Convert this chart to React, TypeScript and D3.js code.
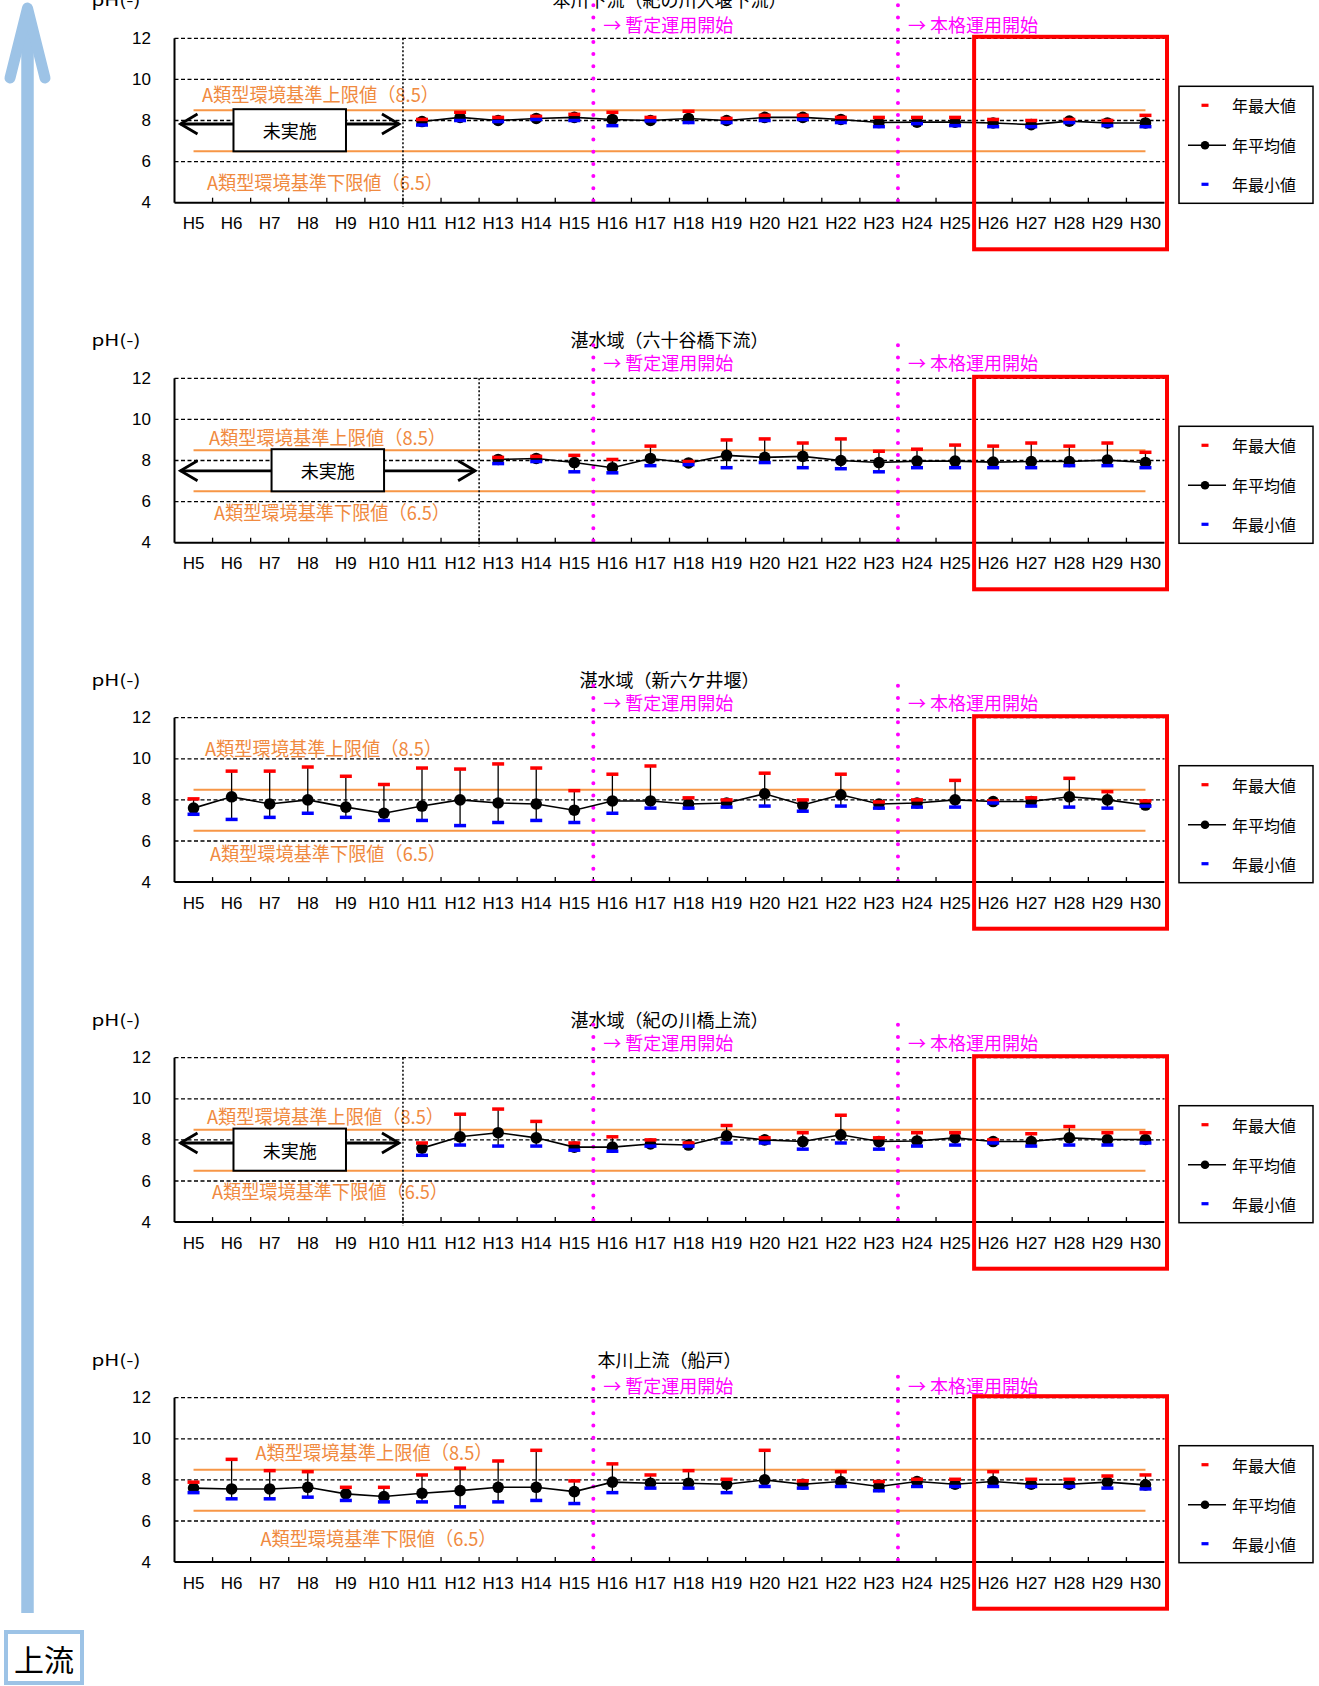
import React from "react";
import * as d3 from "d3";

// ---------- data ----------
const years = ["H5","H6","H7","H8","H9","H10","H11","H12","H13","H14","H15","H16","H17","H18","H19","H20","H21","H22","H23","H24","H25","H26","H27","H28","H29","H30"];
const yTicks = [4, 6, 8, 10, 12];
const gridValues = [6, 8, 10, 12];
const upperLimit = 8.5;
const lowerLimit = 6.5;
const upperLabel = "A類型環境基準上限値（8.5）";
const lowerLabel = "A類型環境基準下限値（6.5）";
const notDoneLabel = "未実施";
const yAxisLabel = "pH(-)";
const legendLabels = ["年最大値", "年平均値", "年最小値"];
const events = [
  { year: "H16", label: "→ 暫定運用開始" },
  { year: "H24", label: "→ 本格運用開始" },
];
const highlightYears = ["H26", "H30"];
const upstreamLabel = "上流";

const titles = [
  "本川下流（紀の川大堰下流）",
  "湛水域（六十谷橋下流）",
  "湛水域（新六ケ井堰）",
  "湛水域（紀の川橋上流）",
  "本川上流（船戸）",
];

const N = null;
const mean1 = [N,N,N,N,N,N, 7.95,8.15,8.0,8.1,8.15,8.05,8.0,8.1,8.0,8.15,8.15,8.05,7.9,7.92,7.92,7.88,7.8,7.97,7.88,7.88];
const max1  = [N,N,N,N,N,N, 8.05,8.4,8.15,8.2,8.3,8.4,8.15,8.45,8.1,8.25,8.25,8.15,8.15,8.15,8.15,8.05,8.0,8.05,8.0,8.25];
const min1  = [N,N,N,N,N,N, 7.78,8.0,7.95,8.05,8.0,7.75,7.98,7.9,7.9,8.0,8.05,7.9,7.7,7.85,7.75,7.7,7.7,7.9,7.75,7.7];

const mean2 = [N,N,N,N,N,N,N,N, 8.05,8.1,7.9,7.65,8.1,7.88,8.25,8.15,8.2,8.0,7.9,7.97,7.97,7.92,7.95,7.95,8.02,7.9];
const max2  = [N,N,N,N,N,N,N,N, 8.15,8.2,8.25,8.05,8.7,7.95,9.0,9.05,8.85,9.05,8.45,8.55,8.75,8.7,8.85,8.7,8.85,8.4];
const min2  = [N,N,N,N,N,N,N,N, 7.85,7.95,7.45,7.4,7.75,7.8,7.65,7.9,7.65,7.6,7.45,7.65,7.65,7.65,7.65,7.75,7.75,7.65];

const mean3 = [7.6,8.15,7.8,8.0,7.65,7.35,7.7,8.0,7.85,7.8,7.5,7.95,7.95,7.8,7.85,8.3,7.75,8.25,7.8,7.85,8.0,7.92,7.92,8.15,8.0,7.75];
const max3  = [8.05,9.4,9.4,9.6,9.15,8.75,9.55,9.5,9.75,9.55,8.45,9.25,9.65,8.1,8.0,9.3,8.0,9.25,7.9,8.0,8.95,7.95,8.1,9.05,8.4,7.95];
const min3  = [7.3,7.05,7.15,7.35,7.15,7.0,7.0,6.75,6.9,7.0,6.9,7.35,7.6,7.6,7.65,7.7,7.45,7.7,7.6,7.65,7.65,7.85,7.7,7.65,7.6,7.7];

const mean4 = [N,N,N,N,N,N, 7.6,8.15,8.35,8.1,7.65,7.65,7.8,7.75,8.2,8.0,7.92,8.25,7.92,7.95,8.1,7.92,7.92,8.1,8.02,8.02];
const max4  = [N,N,N,N,N,N, 7.85,9.25,9.5,8.9,7.85,8.15,8.0,7.85,8.7,8.1,8.35,9.2,8.1,8.35,8.35,8.0,8.3,8.65,8.35,8.35];
const min4  = [N,N,N,N,N,N, 7.25,7.75,7.7,7.7,7.5,7.45,7.7,7.7,7.85,7.85,7.55,7.85,7.55,7.7,7.75,7.85,7.7,7.75,7.75,7.85];

const mean5 = [7.6,7.56,7.56,7.64,7.32,7.19,7.35,7.48,7.64,7.64,7.43,7.89,7.84,7.84,7.79,8.0,7.79,7.92,7.68,7.92,7.79,7.92,7.79,7.79,7.89,7.76];
const max5  = [7.89,9.0,8.45,8.4,7.64,7.64,8.24,8.57,8.92,9.44,7.95,8.78,8.24,8.45,8.03,9.44,7.95,8.4,7.92,8.03,8.03,8.4,8.03,8.03,8.19,8.24];
const min5  = [7.38,7.08,7.08,7.16,7.0,6.93,6.93,6.69,6.93,7.0,6.85,7.38,7.6,7.6,7.38,7.68,7.6,7.68,7.47,7.68,7.68,7.68,7.68,7.68,7.6,7.56];

const series = [
  { mean: mean1, max: max1, min: min1 },
  { mean: mean2, max: max2, min: min2 },
  { mean: mean3, max: max3, min: min3 },
  { mean: mean4, max: max4, min: min4 },
  { mean: mean5, max: max5, min: min5 },
];

// ---------- layout ----------
const W = 1319;
const H = 1686;
const X0 = 174.5;
const X1 = 1164.5;
const PH = 164.4;
const layouts = [
  { top: 38.3, upY: 55, loY: 143.4, labX: 202, magTop: -33, magLab: -14.7, arrowVal: 7.83, showNotDone: true },
  { top: 378.3, upY: 58, loY: 133.4, labX: 209, magTop: -33, magLab: -16.6, arrowVal: 7.5, showNotDone: true },
  { top: 717.7, upY: 29.6, loY: 135, labX: 205, magTop: -32, magLab: -16, arrowVal: 0, showNotDone: false },
  { top: 1057.7, upY: 57.3, loY: 132.3, labX: 207, magTop: -33, magLab: -15.5, arrowVal: 7.85, showNotDone: true },
  { top: 1397.7, upY: 54, loY: 139.6, labX: 255.5, magTop: -21, magLab: -12.7, arrowVal: 0, showNotDone: false },
];

const JP = "'Noto Sans CJK JP', 'Noto Sans', sans-serif";
const LAT = "'Liberation Sans', Arial, sans-serif";
const ORANGE = "#F79646";
const ORANGE_TXT = "#F08A40";
const MAGENTA = "#FF00FF";
const RED = "#FF0000";
const BLUE = "#0000FF";
const LIGHTBLUE = "#9DC3E6";

function Chart({ idx }: { idx: number }) {
  const L = layouts[idx];
  const S = series[idx];
  const top = L.top;
  const bottom = top + PH;
  const x = d3.scaleBand<string>().domain(years).range([X0, X1]).padding(0);
  const y = d3.scaleLinear().domain([4, 12]).range([bottom, top]);
  const bw = x.bandwidth();
  const cx = (i: number) => (x(years[i]) as number) + bw / 2;

  const pts = S.mean
    .map((m, i) => (m == null ? null : { i, m: m as number, hi: S.max[i] as number, lo: S.min[i] as number }))
    .filter((d) => d != null) as { i: number; m: number; hi: number; lo: number }[];
  const line = d3
    .line<{ i: number; m: number }>()
    .x((d) => cx(d.i))
    .y((d) => y(d.m));
  const firstIdx = pts[0].i;
  const boundaryX = x(years[firstIdx]) as number;

  const arrowY = y(L.arrowVal);
  const arrowStart = X0 + 6;
  const arrowEnd = boundaryX - 4;
  const boxW = 112.5;
  const boxMid = (arrowStart + arrowEnd) / 2;
  const boxTop = y(8.55);
  const boxBot = y(6.5);

  const hlX0 = x(highlightYears[0]) as number;
  const hlX1 = (x(highlightYears[1]) as number) + bw + 2.5;

  const capW = 12;
  const capH = 3.5;

  const legX = 1179;
  const legY = top + 48;

  return (
    <g>
      {/* title & y label */}
      <text x={(X0 + X1) / 2} y={top - 39} textAnchor="middle" dominantBaseline="central" fontFamily={JP} fontSize={18} fill="#000">
        {titles[idx]}
      </text>
      <text x={91.5} y={top - 39} dominantBaseline="central" fontFamily={JP} fontSize={16} fill="#000" textLength={49} lengthAdjust="spacingAndGlyphs">
        {yAxisLabel}
      </text>

      {/* gridlines */}
      {gridValues.map((v) => (
        <line key={v} x1={X0} x2={X1} y1={y(v)} y2={y(v)} stroke="#000" strokeWidth={1.3} strokeDasharray="4 2.5" />
      ))}

      {/* y tick labels */}
      {yTicks.map((v) => (
        <text key={v} x={151} y={y(v)} textAnchor="end" dominantBaseline="central" fontFamily={LAT} fontSize={17} fill="#000">
          {v}
        </text>
      ))}

      {/* x tick marks and labels */}
      {years.map((yr, i) =>
        i > 0 ? (
          <line key={"t" + yr} x1={x(yr) as number} x2={x(yr) as number} y1={bottom} y2={bottom - 5} stroke="#000" strokeWidth={1.3} />
        ) : null
      )}
      {years.map((yr, i) => (
        <text key={"l" + yr} x={cx(i)} y={bottom + 21} textAnchor="middle" dominantBaseline="central" fontFamily={LAT} fontSize={17} fill="#000">
          {yr}
        </text>
      ))}

      {/* standard limits */}
      <line x1={cx(0)} x2={cx(years.length - 1)} y1={y(upperLimit)} y2={y(upperLimit)} stroke={ORANGE} strokeWidth={2} />
      <line x1={cx(0)} x2={cx(years.length - 1)} y1={y(lowerLimit)} y2={y(lowerLimit)} stroke={ORANGE} strokeWidth={2} />
      <text x={L.labX} y={top + L.upY} dominantBaseline="central" fontFamily={JP} fontSize={19} fill={ORANGE_TXT} textLength={237} lengthAdjust="spacingAndGlyphs">
        {upperLabel}
      </text>
      <text x={L.labX + 5} y={top + L.loY} dominantBaseline="central" fontFamily={JP} fontSize={19} fill={ORANGE_TXT} textLength={236} lengthAdjust="spacingAndGlyphs">
        {lowerLabel}
      </text>

      {/* not measured marker */}
      {L.showNotDone && (
        <g>
          <line x1={boundaryX} x2={boundaryX} y1={top} y2={bottom + 4} stroke="#000" strokeWidth={1.5} strokeDasharray="2 2" />
          <line x1={arrowStart} x2={arrowEnd} y1={arrowY} y2={arrowY} stroke="#000" strokeWidth={2.8} />
          <path d={`M${arrowStart + 17},${arrowY - 10} L${arrowStart},${arrowY} L${arrowStart + 17},${arrowY + 10}`} fill="none" stroke="#000" strokeWidth={2.8} />
          <path d={`M${arrowEnd - 17},${arrowY - 10} L${arrowEnd},${arrowY} L${arrowEnd - 17},${arrowY + 10}`} fill="none" stroke="#000" strokeWidth={2.8} />
          <rect x={boxMid - boxW / 2} y={boxTop} width={boxW} height={boxBot - boxTop} fill="#fff" stroke="#000" strokeWidth={2} />
          <text x={boxMid} y={(boxTop + boxBot) / 2} textAnchor="middle" dominantBaseline="central" fontFamily={JP} fontSize={18} fill="#000">
            {notDoneLabel}
          </text>
        </g>
      )}

      {/* event lines */}
      {events.map((ev) => {
        const ex = x(ev.year) as number;
        return (
          <g key={ev.year}>
            <line x1={ex} x2={ex} y1={top + L.magTop} y2={bottom} stroke={MAGENTA} strokeWidth={4} strokeLinecap="round" strokeDasharray="0 12.2" />
            <text x={ex + 10} y={top + L.magLab} dominantBaseline="central" fontFamily={JP} fontSize={18} fill={MAGENTA} textLength={130} lengthAdjust="spacingAndGlyphs">
              {ev.label}
            </text>
          </g>
        );
      })}

      {/* axes */}
      <line x1={X0} x2={X0} y1={top} y2={bottom} stroke="#000" strokeWidth={2} />
      <line x1={X0} x2={X1} y1={bottom} y2={bottom} stroke="#000" strokeWidth={2} />

      {/* error bars */}
      {pts.map((d) => (
        <line key={"e" + d.i} x1={cx(d.i)} x2={cx(d.i)} y1={y(d.hi)} y2={y(d.lo)} stroke="#000" strokeWidth={1.3} />
      ))}
      {/* mean line */}
      <path d={line(pts) || ""} fill="none" stroke="#000" strokeWidth={1.6} />
      {pts.map((d) => (
        <circle key={"c" + d.i} cx={cx(d.i)} cy={y(d.m)} r={5.8} fill="#000" />
      ))}
      {pts.map((d) => (
        <rect key={"mx" + d.i} x={cx(d.i) - capW / 2} y={y(d.hi) - capH / 2} width={capW} height={capH} fill={RED} />
      ))}
      {pts.map((d) => (
        <rect key={"mn" + d.i} x={cx(d.i) - capW / 2} y={y(d.lo) - capH / 2} width={capW} height={capH} fill={BLUE} />
      ))}

      {/* legend */}
      <rect x={legX} y={legY} width={134} height={117} fill="#fff" stroke="#000" strokeWidth={1.5} />
      <rect x={1201.5} y={top + 67 - 1.6} width={7} height={3.2} fill={RED} />
      <line x1={1188} x2={1226} y1={top + 107} y2={top + 107} stroke="#000" strokeWidth={1.6} />
      <circle cx={1205} cy={top + 107} r={4.3} fill="#000" />
      <rect x={1201.5} y={top + 146 - 1.6} width={7} height={3.2} fill={BLUE} />
      {legendLabels.map((lb, k) => (
        <text key={lb} x={1232} y={top + [67, 107, 146][k]} dominantBaseline="central" fontFamily={JP} fontSize={16} fill="#000">
          {lb}
        </text>
      ))}

      {/* highlight box */}
      <rect x={hlX0} y={top - 1.5} width={hlX1 - hlX0} height={212.5} fill="none" stroke={RED} strokeWidth={4} />
    </g>
  );
}

export default function App() {
  return (
    <svg
      width={W}
      height={H}
      viewBox={`0 0 ${W} ${H}`}
      style={{ position: "absolute", left: 0, top: 0, background: "#fff" }}
    >
      <rect x={0} y={0} width={W} height={H} fill="#fff" />
      {/* upstream arrow */}
      <line x1={27.5} x2={27.5} y1={12} y2={1613} stroke={LIGHTBLUE} strokeWidth={12.5} />
      <path d="M10,78 L27.5,8 L45,78" fill="none" stroke={LIGHTBLUE} strokeWidth={11} strokeLinecap="round" strokeLinejoin="round" />
      <rect x={6} y={1632} width={76} height={51} fill="#fff" stroke={LIGHTBLUE} strokeWidth={4} />
      <text x={44} y={1658} textAnchor="middle" dominantBaseline="central" fontFamily={JP} fontSize={30} fill="#000">
        {upstreamLabel}
      </text>
      {layouts.map((_, i) => (
        <Chart key={i} idx={i} />
      ))}
    </svg>
  );
}
